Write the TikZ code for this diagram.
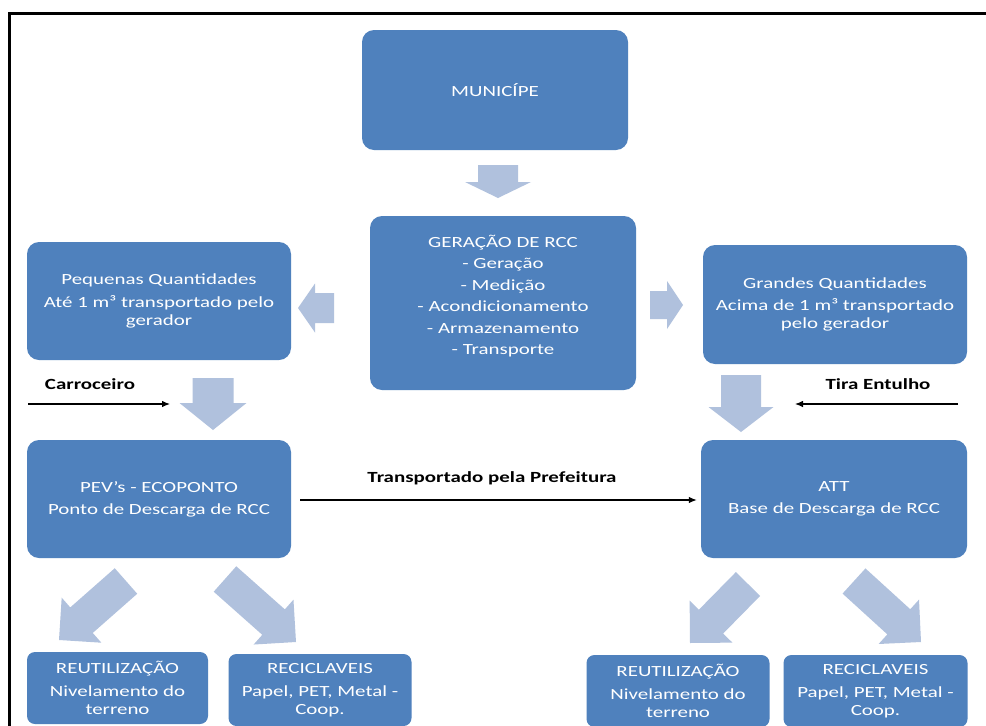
\documentclass[tikz,border=0pt]{standalone}
\usepackage{fontspec}
\setmainfont{Carlito}[FakeStretch=1.35]
\usetikzlibrary{calc,arrows.meta}
\definecolor{boxblue}{HTML}{4F81BD}
\definecolor{arrowblue}{HTML}{B0C1DD}
\tikzset{
  box/.style={fill=boxblue, rounded corners=12pt, text=white, align=center,
    font=\fontsize{15.5}{18}\selectfont, inner sep=0pt},
  smallbox/.style={box, rounded corners=8pt},
  boxtxt/.style={text=white, align=center, font=\fontsize{15.5}{18}\selectfont, inner sep=0pt},
  lbltext/.style={text=black, font=\bfseries\fontsize{15.5}{18}\selectfont, inner sep=0pt},
  conn/.style={draw=black, line width=1.1pt, -{Latex[length=8pt,width=6.5pt]}},
  blockfill/.style={fill=arrowblue},
  frameline/.style={draw=black, line width=3pt}
}
% #1 tail, #2 tip, #3 shaft half width, #4 head half width, #5 head length
\newcommand{\bkarrow}[5]{%
  \coordinate (bk-base) at ($(#2)!#5!(#1)$);
  \fill[blockfill] ($(#1)!#3!90:(#2)$) -- ($(bk-base)!#3!90:(#2)$) -- ($(bk-base)!#4!90:(#2)$)
    -- (#2) -- ($(bk-base)!#4!-90:(#2)$) -- ($(bk-base)!#3!-90:(#2)$) -- ($(#1)!#3!-90:(#2)$) -- cycle;}
\begin{document}
\begin{tikzpicture}[x=1pt,y=-1pt]
\useasboundingbox (0,0) rectangle (986,726);
\clip (0,0) rectangle (986,726);
\fill[white] (0,0) rectangle (986,726);
% frame
\draw[frameline] (9.5,730) -- (9.5,13.5) -- (990,13.5);

% boxes
\node[box, minimum width=266pt, minimum height=120pt] (mun) at (495,90) {MUNICÍPE};
\node[box, minimum width=266pt, minimum height=174pt] (ger) at (503,303) {};
\node[boxtxt] (gertxt) at (503,296) {GERAÇÃO DE RCC\\[3.4pt] - Geração\\[3.4pt] - Medição\\[3.4pt] - Acondicionamento\\[3.4pt] - Armazenamento\\[3.4pt] - Transporte};
\node[box, minimum width=264pt, minimum height=118pt] (peq) at (159,301) {Pequenas Quantidades\\[4.5pt] Até 1 m³ transportado pelo\\ gerador};
\node[box, minimum width=264pt, minimum height=119pt] (gra) at (835,304.5) {Grandes Quantidades\\[4.5pt] Acima de 1 m³ transportado\\ pelo gerador};
\node[box, minimum width=264pt, minimum height=118pt] (pev) at (159,499) {PEV's - ECOPONTO\\[4pt] Ponto de Descarga de RCC};
\node[box, minimum width=266pt, minimum height=118pt] (att) at (834,499) {ATT\\[4pt] Base de Descarga de RCC};
\node[smallbox, minimum width=181pt, minimum height=72pt] (reu1) at (117.5,688) {REUTILIZAÇÃO\\[5pt] Nivelamento do\\ terreno};
\node[smallbox, minimum width=183pt, minimum height=72pt] (rec1) at (320,690) {RECICLAVEIS\\[5pt] Papel, PET, Metal -\\ Coop.};
\node[smallbox, minimum width=183pt, minimum height=72pt] (reu2) at (678,691) {REUTILIZAÇÃO\\[5pt] Nivelamento do\\ terreno};
\node[smallbox, minimum width=184pt, minimum height=72pt] (rec2) at (875.5,691) {RECICLAVEIS\\[5pt] Papel, PET, Metal -\\ Coop.};

% block arrows (tail / tip coordinates)
\coordinate (a1t) at (498,165);   \coordinate (a1h) at (498,198);
\coordinate (a2t) at (334,308);   \coordinate (a2h) at (298,308);
\coordinate (a3t) at (650,305);   \coordinate (a3h) at (683,305);
\coordinate (a4t) at (213,378);   \coordinate (a4h) at (213,430);
\coordinate (a5t) at (741,375);   \coordinate (a5h) at (741,432);
\coordinate (d1t) at (126,581);   \coordinate (d1h) at (59,640);
\coordinate (d2t) at (225,579);   \coordinate (d2h) at (296,642);
\coordinate (d3t) at (748,584);   \coordinate (d3h) at (690,643);
\coordinate (d4t) at (854,581);   \coordinate (d4h) at (921,642);
\bkarrow{a1t}{a1h}{20pt}{33pt}{16pt}
\bkarrow{a2t}{a2h}{15pt}{24.5pt}{17pt}
\bkarrow{a3t}{a3h}{14pt}{24pt}{16pt}
\bkarrow{a4t}{a4h}{20.5pt}{33.5pt}{27pt}
\bkarrow{a5t}{a5h}{20pt}{32.5pt}{25pt}
\bkarrow{d1t}{d1h}{17pt}{30pt}{30pt}
\bkarrow{d2t}{d2h}{17pt}{30pt}{30pt}
\bkarrow{d3t}{d3h}{17pt}{30pt}{30pt}
\bkarrow{d4t}{d4h}{17pt}{30pt}{30pt}

% thin connectors
\coordinate (carS) at (28,404);  \coordinate (carE) at (170,404);
\coordinate (tirS) at (958,404); \coordinate (tirE) at (795,404);
\draw[conn] (carS) -- (carE);
\draw[conn] (tirS) -- (tirE);
\draw[conn] ([xshift=9pt]pev.east |- 0,500) -- ([xshift=-4pt]att.west |- 0,500);

% labels
\node[lbltext] (carlbl) at (90,384) {Carroceiro};
\node[lbltext] (tirlbl) at (878,384) {Tira Entulho};
\node[lbltext] (prelbl) at (492,478) {Transportado pela Prefeitura};
\end{tikzpicture}
\end{document}
